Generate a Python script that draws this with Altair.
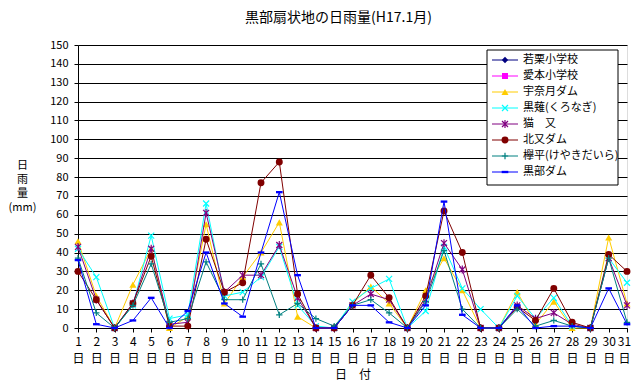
import altair as alt
import pandas as pd

FONT = "Noto Sans CJK JP"

days = list(range(1, 32))

series_names = ["若栗小学校", "愛本小学校", "宇奈月ダム", "黒薙(くろなぎ)",
                "猫　又", "北又ダム", "欅平(けやきだいら)", "黒部ダム"]
series_colors = ["#000080", "#FF00FF", "#FFCC00", "#00FFFF",
                 "#800080", "#800000", "#008080", "#0000FF"]

wakaguri = [None] * 31
aimoto = [None] * 31
unazuki = [46, 17, 0, 23, 42, 0, 6, 55, 13, 27, 40, 56, 6, 0, 0, 13,
           22, 13, 0, 20, 37, 20, 0, 0, 19, 2, 14, 0, 0, 48, 13]
kuronagi = [42, 27, 0, 12, 49, 5, 7, 66, 17, 19, 27, 43, 12, 1, 0, 14,
            21, 26, 0, 9, 43, 21, 10, 0, 17, 5, 16, 1, 0, 37, 24]
nekomata = [43, 15, 0, 13, 42, 2, 3, 61, 19, 28, 28, 44, 16, 0, 0, 12,
            18, 15, 0, 15, 45, 31, 0, 0, 12, 5, 8, 2, 0, 37, 12]
kitamata = [30, 15, 0, 13, 38, 1, 1, 47, 19, 24, 77, 88, 18, 0, 0, 12,
            28, 16, 0, 17, 62, 40, 0, 0, 11, 4, 21, 3, 0, 39, 30]
keyakidaira = [37, 8, 0, 12, 34, 3, 5, 35, 15, 15, 34, 7, 13, 5, 1, 12,
               15, 8, 0, 14, 41, 10, 0, 0, 10, 1, 4, 1, 0, 37, 3]
kurobe_dam = [36, 2, 0, 4, 16, 0, 9, 40, 13, 6, 40, 72, 28, 0, 0, 12,
              12, 3, 0, 12, 67, 7, 0, 0, 12, 0, 1, 1, 0, 21, 2]

all_values = [wakaguri, aimoto, unazuki, kuronagi, nekomata,
              kitamata, keyakidaira, kurobe_dam]

# marker definitions: (shape, filled, size)
markers = [
    ("diamond", True, 40),
    ("square", True, 36),
    ("triangle-up", True, 50),
    ("M-1,-1L1,1M-1,1L1,-1", False, 36),
    ("M-1,-1L1,1M-1,1L1,-1M0,-1.3L0,1.3", False, 36),
    ("circle", True, 48),
    ("M-1,0H1M0,-1V1", False, 40),
    ("M-1,-0.35H1V0.35H-1Z", True, 44),
]

rows = []
for name, vals in zip(series_names, all_values):
    for d, v in zip(days, vals):
        if v is not None:
            rows.append({"series": name, "day": d, "rain": v})
df = pd.DataFrame(rows)

x_axis = alt.Axis(
    values=days, labelExpr="[datum.label, '日']", title="日　付",
    grid=False, domainColor="black", tickColor="black", tickSize=4,
    labelPadding=4, labelLineHeight=17, labelFontSize=12, labelColor="black",
    labelFont=FONT, labelBaseline="top", labelFlush=False, labelOverlap=False,
    labelOffset={"condition": {"test": "datum.value == 31", "value": -3}, "value": 0},
    titleFont=FONT, titleFontSize=12, titleFontWeight="normal", titleColor="black",
    titleY=46, titleBaseline="middle",
)
y_axis = alt.Axis(
    values=list(range(0, 151, 10)), title=["日", "雨", "量", "(mm)"],
    grid=True, gridColor="black", gridWidth=1, domainColor="black",
    tickColor="black", tickSize=4, labelPadding=6, labelFontSize=11,
    labelColor="black", labelFont=FONT,
    titleFont=FONT, titleFontSize=11, titleFontWeight="normal", titleColor="black",
    titleAngle=0, titleAlign="center", titleBaseline="middle", titleX=-56, titleY=120,
    titleLineHeight=14,
)
x_scale = alt.Scale(domain=[1, 31], nice=False, zero=False)
y_scale = alt.Scale(domain=[0, 150], nice=False)

series_layers = []
for i, (name, col, mk) in enumerate(zip(series_names, series_colors, markers)):
    if all(v is None for v in all_values[i]):
        continue
    base = alt.Chart(df).transform_filter(alt.datum.series == name)
    enc = dict(x=alt.X("day:Q", scale=x_scale, axis=x_axis),
               y=alt.Y("rain:Q", scale=y_scale, axis=y_axis))
    line = base.mark_line(color=col, strokeWidth=1).encode(**enc)
    shape, filled, size = mk
    pt = base.mark_point(shape=shape, filled=filled, size=size, color=col,
                         opacity=1, strokeWidth=1.2).encode(**enc)
    series_layers += [line, pt]

main = alt.layer(*series_layers)

# legend
leg_df = pd.DataFrame({"name": series_names})
leg_y = alt.Y("name:N", scale=alt.Scale(type="point", domain=series_names, range=[15, 127], padding=0), axis=None)
leg_box = alt.Chart(pd.DataFrame({"a": [0]})).mark_rect(
    fill="white", stroke="black", strokeWidth=1).encode(
    x=alt.value(409), x2=alt.value(540), y=alt.value(5), y2=alt.value(140))
legend_layers = [leg_box]
for name, col, mk in zip(series_names, series_colors, markers):
    b = alt.Chart(leg_df).transform_filter(alt.datum.name == name)
    legend_layers.append(b.mark_rule(color=col, strokeWidth=1).encode(
        x=alt.value(414), x2=alt.value(440), y=leg_y))
    shape, filled, size = mk
    legend_layers.append(b.mark_point(shape=shape, filled=filled, size=size, color=col,
                                      opacity=1, strokeWidth=1.2).encode(
        x=alt.value(427), y=leg_y))
legend_layers.append(alt.Chart(leg_df).mark_text(
    align="left", baseline="middle", fontSize=11, font=FONT, color="black").encode(
    x=alt.value(445), y=leg_y, text="name:N"))
legend = alt.layer(*legend_layers)

chart = alt.layer(main, legend).resolve_scale(y="independent").properties(
    width=549, height=283,
    title=alt.TitleParams("黒部扇状地の日雨量(H17.1月)", font=FONT, fontSize=14,
                          fontWeight="normal", color="black", anchor="middle",
                          offset=14, dx=-14),
    autosize=alt.AutoSizeParams(type="none"),
    padding={"left": 70, "top": 37, "right": 5, "bottom": 52},
).configure_view(stroke="#808080", strokeWidth=1).configure(background="white")

chart.save("out.html", embed_options={"renderer": "svg", "actions": False})
